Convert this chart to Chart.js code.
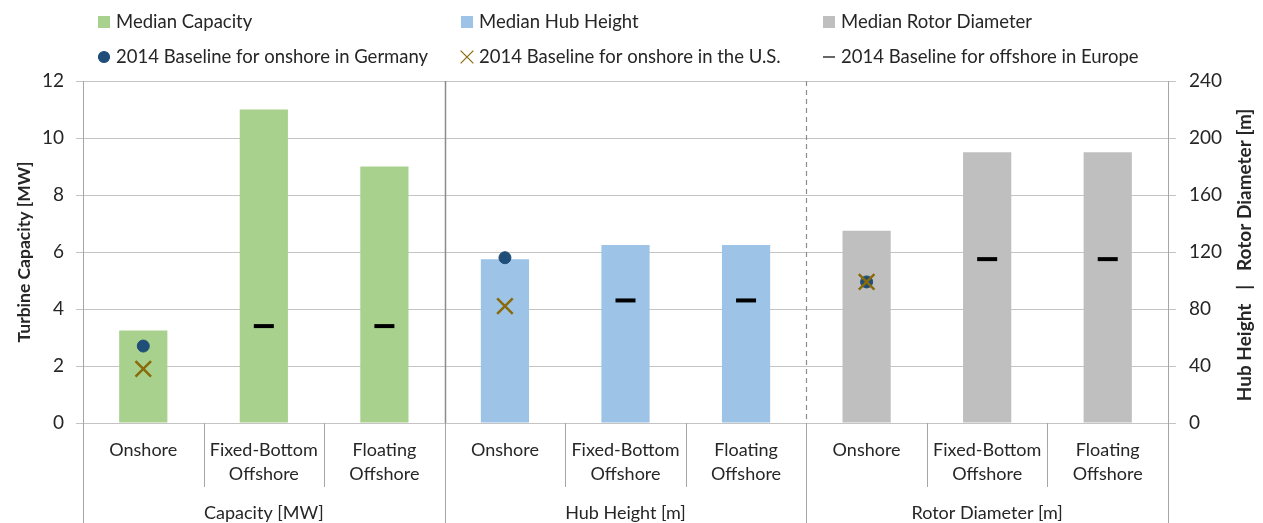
<!DOCTYPE html>
<html>
<head>
<meta charset="utf-8">
<script src="https://cdn.jsdelivr.net/npm/chart.js@4.4.1/dist/chart.umd.min.js"></script>
<style>
html,body{margin:0;padding:0;background:#fff;}
</style>
</head>
<body>
<canvas id="turbinas" width="1263" height="523"></canvas>
<script>
// categorias y grupos
const categorias=[
    ['Onshore'],['Fixed-Bottom','Offshore'],['Floating','Offshore'],
    ['Onshore'],['Fixed-Bottom','Offshore'],['Floating','Offshore'],
    ['Onshore'],['Fixed-Bottom','Offshore'],['Floating','Offshore']
];
const grupos=['Capacity [MW]','Hub Height [m]','Rotor Diameter [m]'];

// medianas
const capacidad=[3.25,11,9,null,null,null,null,null,null];
const alturaBuje=[null,null,null,115,125,125,null,null,null];
const diametroRotor=[null,null,null,null,null,null,135,190,190];

// lineas base 2014 (MW en eje izq., m en eje der.)
const alemaniaMW=[2.7,null,null,null,null,null,null,null,null];
const alemaniaM=[null,null,null,116,null,null,99,null,null];
const eeuuMW=[1.9,null,null,null,null,null,null,null,null];
const eeuuM=[null,null,null,82,null,null,99,null,null];
const europaMW=[null,3.4,3.4,null,null,null,null,null,null];
const europaM=[null,null,null,null,86,86,null,115,115];

// ticks
const ticksMW=[0,2,4,6,8,10,12];
const ticksM=[0,40,80,120,160,200,240];

const fuente='Lato';
const gris='#c4c4c4';
const texto='#262626';

const leyenda=[
    {texto:'Median Capacity',tipo:'square',color:'#A9D18E',x:98,y:22},
    {texto:'Median Hub Height',tipo:'square',color:'#9DC3E6',x:461,y:22},
    {texto:'Median Rotor Diameter',tipo:'square',color:'#BFBFBF',x:823,y:22},
    {texto:'2014 Baseline for onshore in Germany',tipo:'circle',color:'#1F4E79',x:98,y:57},
    {texto:'2014 Baseline for onshore in the U.S.',tipo:'crossRot',color:'#8A6A0A',x:461,y:57},
    {texto:'2014 Baseline for offshore in Europe',tipo:'line',color:'#000000',x:823,y:57}
];

const extras={
    id:'extras',
    afterDraw(chart){
        const ctx=chart.ctx;
        const xs=chart.scales.x;
        const area=chart.chartArea;
        const n=categorias.length;
        const borde=i=>{
            if(i<=0) return area.left;
            if(i>=n) return area.right;
            return (xs.getPixelForValue(i-1)+xs.getPixelForValue(i))/2;
        };
        ctx.save();
        // separadores debajo del eje
        ctx.lineWidth=1;
        ctx.strokeStyle='#a6a6a6';
        for(let i=0;i<=n;i++){
            const x=Math.round(borde(i))+0.5;
            ctx.beginPath();
            ctx.moveTo(x,area.bottom);
            ctx.lineTo(x,i%3==0?chart.height:area.bottom+64);
            ctx.stroke();
        }
        // lineas entre grupos dentro del grafico
        let x=Math.round(borde(3))+0.5;
        ctx.strokeStyle='#8c8c8c';
        ctx.lineWidth=1.5;
        ctx.beginPath();ctx.moveTo(x,area.top);ctx.lineTo(x,area.bottom);ctx.stroke();
        x=Math.round(borde(6))+0.5;
        ctx.setLineDash([5,4]);
        ctx.lineWidth=1.2;
        ctx.beginPath();ctx.moveTo(x,area.top);ctx.lineTo(x,area.bottom);ctx.stroke();
        ctx.setLineDash([]);
        // nombres de grupos
        ctx.fillStyle=texto;
        ctx.font='18px '+fuente;
        ctx.textAlign='center';
        ctx.textBaseline='middle';
        grupos.forEach((g,k)=>{
            ctx.fillText(g,(borde(k*3)+borde(k*3+3))/2,513);
        });
        // titulos de ejes
        ctx.save();
        ctx.translate(24,252);
        ctx.rotate(-Math.PI/2);
        ctx.font='bold 17.5px '+fuente;
        ctx.fillText('Turbine Capacity [MW]',0,0);
        ctx.restore();
        ctx.save();
        ctx.translate(1245,255);
        ctx.rotate(-Math.PI/2);
        ctx.font='bold 19px '+fuente;
        ctx.fillText('Hub Height   |   Rotor Diameter [m]',0,0);
        ctx.restore();
        // leyenda
        ctx.textAlign='left';
        ctx.font='18.5px '+fuente;
        leyenda.forEach(it=>{
            ctx.fillStyle=it.color;
            ctx.strokeStyle=it.color;
            if(it.tipo=='square'){
                ctx.fillRect(it.x,it.y-6,12,12);
            }else if(it.tipo=='circle'){
                Chart.helpers.drawPoint(ctx,{pointStyle:'circle',radius:5.5,borderWidth:1},it.x+6,it.y);
            }else if(it.tipo=='crossRot'){
                Chart.helpers.drawPoint(ctx,{pointStyle:'crossRot',radius:9,borderWidth:2.5},it.x+6,it.y);
            }else{
                Chart.helpers.drawPoint(ctx,{pointStyle:'line',radius:6,borderWidth:1.8},it.x+6,it.y);
            }
            ctx.fillStyle=texto;
            ctx.fillText(it.texto,it.x+18,it.y);
        });
        ctx.restore();
    }
};

const puntos=(label,data,eje,estilo,color,radio,ancho)=>({
    type:'line',label:label,data:data,yAxisID:eje,showLine:false,order:1,
    pointStyle:estilo,pointRadius:radio,pointHoverRadius:radio,
    pointBackgroundColor:color,pointBorderColor:color,pointBorderWidth:ancho
});

let turbinasChart=new Chart(document.getElementById('turbinas').getContext('2d'),{
    type:'bar',
    data:{
        labels:categorias,
        datasets:[
            {label:'Median Capacity',data:capacidad,yAxisID:'y',backgroundColor:'#A9D18E',order:2},
            {label:'Median Hub Height',data:alturaBuje,yAxisID:'y2',backgroundColor:'#9DC3E6',order:2},
            {label:'Median Rotor Diameter',data:diametroRotor,yAxisID:'y2',backgroundColor:'#BFBFBF',order:2},
            puntos('2014 Baseline for offshore in Europe',europaMW,'y','line','#000000',10,4),
            puntos('2014 Baseline for offshore in Europe',europaM,'y2','line','#000000',10,4),
            puntos('2014 Baseline for onshore in the U.S.',eeuuMW,'y','crossRot','#8A6A0A',11,2.5),
            puntos('2014 Baseline for onshore in the U.S.',eeuuM,'y2','crossRot','#8A6A0A',11,2.5),
            puntos('2014 Baseline for onshore in Germany',alemaniaMW,'y','circle','#1F4E79',6,1),
            puntos('2014 Baseline for onshore in Germany',alemaniaM,'y2','circle','#1F4E79',6,1)
        ]
    },
    options:{
        responsive:false,
        animation:false,
        datasets:{bar:{grouped:false,categoryPercentage:1,barPercentage:0.4}},
        layout:{padding:{top:81,left:0,right:0,bottom:0}},
        plugins:{legend:{display:false},tooltip:{enabled:false}},
        scales:{
            x:{
                grid:{display:false,drawTicks:false},
                border:{display:false},
                ticks:{color:texto,font:{family:fuente,size:18,lineHeight:1.333},padding:15,maxRotation:0,autoSkip:false},
                afterFit(s){s.height=100;}
            },
            y:{
                position:'left',min:0,max:12,
                afterBuildTicks(s){s.ticks=ticksMW.map(v=>({value:v}));},
                grid:{color:gris,tickLength:7},
                border:{display:true,color:'#a6a6a6'},
                ticks:{color:texto,font:{family:fuente,size:19},padding:12},
                afterFit(s){s.width=83;}
            },
            y2:{
                position:'right',min:0,max:240,
                afterBuildTicks(s){s.ticks=ticksM.map(v=>({value:v}));},
                grid:{drawOnChartArea:false,color:gris,tickLength:8},
                border:{display:true,color:'#a6a6a6'},
                ticks:{color:texto,font:{family:fuente,size:19},padding:13},
                afterFit(s){s.width=95;}
            }
        }
    },
    plugins:[extras]
});
</script>
</body>
</html>
